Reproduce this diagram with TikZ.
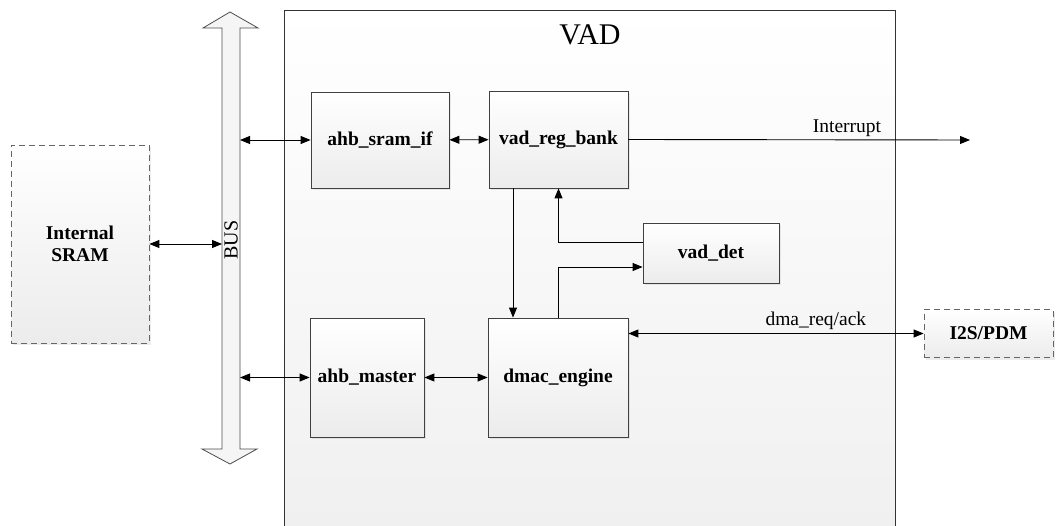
\documentclass[tikz,border=0pt]{standalone}
\usepackage{fontspec}
\setmainfont{Liberation Serif}
\usetikzlibrary{arrows.meta,shadows}

\begin{document}
\begin{tikzpicture}[x=1pt, y=-1pt, >={Triangle[length=10pt,width=8pt]},
	every node/.style={font=\fontsize{19.5}{22}\selectfont},
	blk/.style={draw=black!75, line width=0.8pt, top color=white, bottom color=gray!15, inner sep=0pt, font=\fontsize{19.5}{22}\selectfont\bfseries, drop shadow={opacity=0.15, shadow xshift=2pt, shadow yshift=-2pt}},
	ext/.style={blk, draw=gray!80!black, dash pattern=on 6pt off 4pt},
	lnk/.style={line width=0.9pt}]
	\useasboundingbox (0,0) rectangle (1056,526);
	% VAD block
	\node[draw=black!80, line width=0.8pt, top color=white, bottom color=gray!12, inner sep=0pt, anchor=north west, minimum width=611pt, minimum height=530pt] (vad) at (284,10) {};
	\node (vadtitle) at (590,35) {\fontsize{30}{30}\selectfont VAD};
	% bus
	\draw[draw=black!70, line width=0.8pt, fill=gray!8] (230,12) -- (258,28) -- (240,28) -- (240,449) -- (257,449) -- (230,464) -- (202,449) -- (222,449) -- (222,28) -- (203,28) -- cycle;
	\node[rotate=90, font=\fontsize{20}{20}\selectfont] (bus) at (231,240) {BUS};
	\coordinate (busL) at (222,0);
	\coordinate (busR) at (240,0);
	% blocks
	\node[ext, align=center, minimum width=138pt, minimum height=198pt] (sram) at (80,244) {Internal\\SRAM};
	\node[blk, minimum width=138pt, minimum height=96pt] (sramif) at (380,140) {ahb\_sram\_if};
	\node[blk, minimum width=139pt, minimum height=97pt] (regbank) at (558.5,139.5) {vad\_reg\_bank};
	\node[blk, minimum width=136pt, minimum height=60pt] (det) at (711,253) {vad\_det};
	\node[blk, minimum width=114pt, minimum height=119pt] (master) at (367,377.5) {ahb\_master};
	\node[blk, minimum width=140pt, minimum height=119pt] (dmac) at (558,377.5) {dmac\_engine};
	\node[ext, minimum width=129pt, minimum height=48pt] (i2s) at (988.5,333.5) {I2S/PDM};
	\coordinate (irq) at (970,140);
	% connections
	\draw[lnk,<->] (sram.east) -- (sram.east -| busL);
	\draw[lnk,<->] (busR |- sramif.west) -- (sramif.west);
	\draw[lnk,<->] (sramif) -- (regbank);
	\draw[lnk,->] (regbank.east) -- (irq) node[pos=0.64, above, inner sep=3pt] {Interrupt};
	\draw[lnk,->] ([xshift=-45.5pt]regbank.south) -- ([xshift=-45.5pt]regbank.south |- dmac.north);
	\draw[lnk,->] ([yshift=11pt]det.west) -| (regbank.south);
	\draw[lnk,->] (dmac.north) |- ([yshift=-14pt]det.west);
	\draw[lnk,<->] (busR |- master.west) -- (master.west);
	\draw[lnk,<->] (master) -- (dmac);
	\draw[lnk,<->] (dmac.east |- i2s.west) -- (i2s.west) node[pos=0.635, above, inner sep=3pt] {dma\_req/ack};
\end{tikzpicture}
\end{document}
